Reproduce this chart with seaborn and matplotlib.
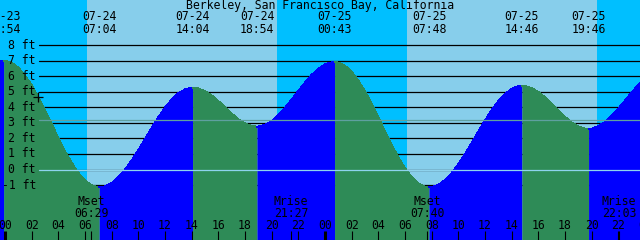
import numpy as np
import matplotlib
matplotlib.use("Agg")
import matplotlib.pyplot as plt
import matplotlib.transforms as mtrans
import seaborn as sns

# ---------------- data (hours counted from 07-24 00:00) ----------------
title = "Berkeley, San Francisco Bay, California"

event_dates = ["07-23", "07-24", "07-24", "07-24", "07-25", "07-25", "07-25", "07-25"]
event_times = ["23:54", "07:04", "14:04", "18:54", "00:43", "07:48", "14:46", "19:46"]
event_heights = [7.00, -1.15, 5.25, 2.75, 6.90, -1.15, 5.37, 2.60]

# half-hourly tide height readings, t = -1.0, -0.5, ..., 48.0
read_t = [i * 0.5 for i in range(-2, 97)]
read_h = [6.80, 6.95, 6.99, 6.86, 6.54, 6.04, 5.40, 4.63, 3.79, 2.90,
          2.02, 1.16, 0.42, -0.23, -0.71, -1.02, -1.15, -1.09, -0.88, -0.51,
          -0.02, 0.57, 1.24, 1.95, 2.66, 3.35, 3.96, 4.49, 4.89, 5.14,
          5.25, 5.20, 5.03, 4.75, 4.39, 3.99, 3.59, 3.23, 2.96, 2.79,
          2.75, 2.86, 3.11, 3.48, 3.95, 4.48, 5.04, 5.58, 6.07, 6.47,
          6.75, 6.88, 6.87, 6.66, 6.27, 5.70, 5.01, 4.21, 3.34, 2.44,
          1.58, 0.77, 0.07, -0.50, -0.90, -1.11, -1.14, -0.99, -0.68, -0.24,
          0.33, 0.99, 1.69, 2.43, 3.14, 3.81, 4.39, 4.85, 5.18, 5.35,
          5.36, 5.23, 4.98, 4.63, 4.22, 3.78, 3.37, 3.02, 2.76, 2.62,
          2.62, 2.78, 3.05, 3.44, 3.90, 4.42, 4.95, 5.42, 5.85]

sun_rise = [6.13, 30.13]
sun_set = [20.38, 44.38]

moon_names = ["Mset", "Mrise", "Mset", "Mrise"]
moon_times = ["06:29", "21:27", "07:40", "22:03"]
moon_days = [0, 0, 1, 1]

ft_levels = [8, 7, 6, 5, 4, 3, 2, 1, 0, -1]
hour_ticks = list(range(0, 49, 2))
now_t = 2.48
msl_level = 3.15

# ---------------- helpers ----------------
W, H = 640, 240
PX_PER_H = 40.0 / 3.0
X0 = 5.0
def tx(px):
    return (px - X0) / PX_PER_H
def yf(py):
    return 1 - py / H

day_off = {"07-23": -24, "07-24": 0, "07-25": 24}
ev_t = [day_off[d] + int(s[:2]) + int(s[3:]) / 60 for d, s in zip(event_dates, event_times)]
moon_t = [24 * d + int(s[:2]) + int(s[3:]) / 60 for d, s in zip(moon_days, moon_times)]

sns.set_style("white")
plt.rcParams["font.family"] = ["DejaVu Sans Mono"]
plt.rcParams["text.color"] = "black"
FS = 8.3

fig = plt.figure(figsize=(6.4, 2.4), dpi=100)
ax = fig.add_axes([0, 0, 1, 1])
ax.set_xlim(tx(0), tx(W))
y_bot = (169.5 - 240) / 15.56
y_top = 169.5 / 15.56
ax.set_ylim(y_bot, y_top)
ax.axis("off")

NIGHT, DAY = "#00BFFF", "#87CEEB"
RISE, FALL = "#0000FF", "#2E8B57"

ax.axvspan(tx(0), tx(W), color=NIGHT, lw=0, zorder=0)
for a, b in zip(sun_rise, sun_set):
    ax.axvspan(a, b, color=DAY, lw=0, zorder=0.5, antialiased=False)

for lv in ft_levels:
    ax.axhline(lv, xmin=39 / W, xmax=1, color="black", lw=0.9, zorder=1)

# tide curve
t_all = np.array(read_t + ev_t, dtype=float)
h_all = np.array(read_h + event_heights, dtype=float)
o = np.argsort(t_all)
t_all, h_all = t_all[o], h_all[o]
bounds = [t_all[0]] + ev_t + [t_all[-1]]
for a, b in zip(bounds[:-1], bounds[1:]):
    m = (t_all >= a - 1e-9) & (t_all <= b + 1e-9)
    ha = np.interp(a, t_all, h_all)
    hb = np.interp(b, t_all, h_all)
    c = RISE if hb > ha else FALL
    ax.fill_between(t_all[m], h_all[m], y_bot - 1, color=c, lw=0, zorder=2,
                    antialiased=False)
    sns.lineplot(x=t_all[m], y=h_all[m], color=c, lw=0.8, ax=ax, zorder=2.1,
                 estimator=None, sort=False, antialiased=False)

ax.axhline(0, xmin=39 / W, xmax=1, color="#8ED3EE", lw=0.9, zorder=3)
ax.axhline(msl_level, xmin=39 / W, xmax=1, color="#5FA0A0", lw=0.9, zorder=3)

# now marker
ax.plot([now_t], [np.interp(now_t, t_all, h_all)], marker="+", ms=6.5, mew=0.9,
        color="black", zorder=4)

# y labels
for lv in ft_levels:
    ax.text(tx(36), lv, f"{lv} ft", ha="right", va="center", fontsize=FS, zorder=5)

bt = mtrans.blended_transform_factory(ax.transData, ax.transAxes)

# title
ax.text(0.5, yf(6), title, transform=ax.transAxes, ha="center", va="center", fontsize=FS, zorder=5)

# tide event labels
for t, d, s in zip(ev_t, event_dates, event_times):
    ax.text(t, yf(16.5), d, transform=bt, ha="center", va="center", fontsize=FS, zorder=5)
    ax.text(t, yf(29.5), s, transform=bt, ha="center", va="center", fontsize=FS, zorder=5)

# hour labels and ticks
for hr in hour_ticks:
    ax.text(hr, yf(225.5), f"{hr % 24:02d}", transform=bt, ha="center", va="center",
            fontsize=FS, zorder=5)
    lw = 2.2 if hr % 24 == 0 else 0.8
    ax.vlines(hr, yf(240), yf(231), transform=bt, color="black", lw=lw, zorder=5)

# moon events
for t, n, s in zip(moon_t, moon_names, moon_times):
    ax.text(t, yf(201.5), n, transform=bt, ha="center", va="center", fontsize=FS, zorder=5)
    ax.text(t, yf(213.5), s, transform=bt, ha="center", va="center", fontsize=FS, zorder=5)
    ax.vlines(t, yf(240), yf(231), transform=bt, color="black", lw=0.8, zorder=5)

fig.savefig("out.png", dpi=100)
